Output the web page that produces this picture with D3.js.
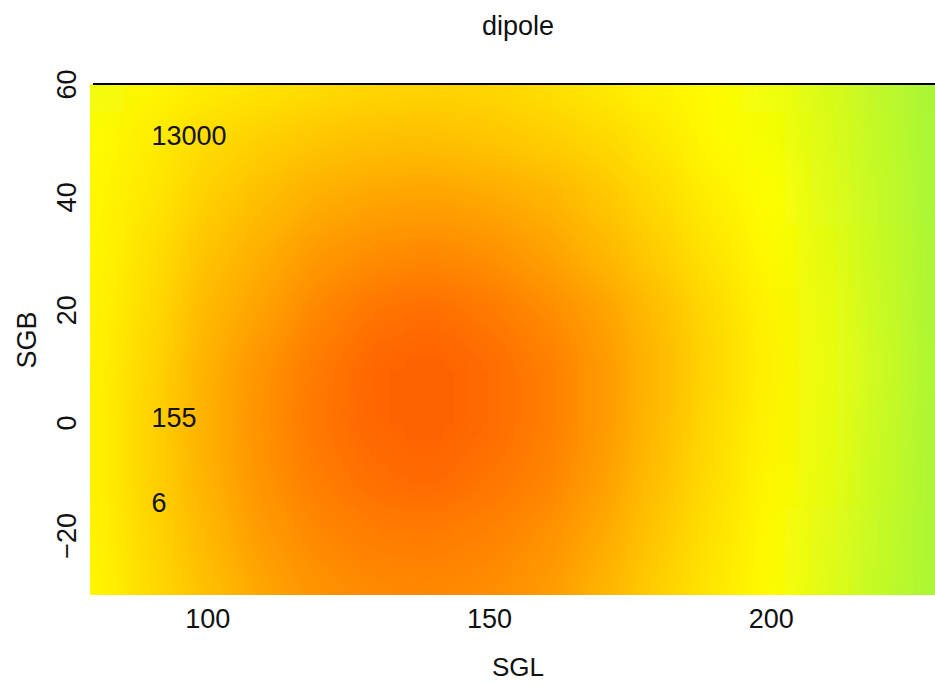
<!DOCTYPE html>
<html>
<head>
<meta charset="utf-8">
<script src="https://cdn.jsdelivr.net/npm/d3@7"></script>
<style>
  body { margin: 0; background: #fff; }
  text { font-family: "Liberation Sans", Arial, sans-serif; fill: #111; }
</style>
</head>
<body>
<svg id="chart"></svg>
<script>
// grid nodes of the map (supergalactic coords)
var sglNodes = [80, 90, 100, 110, 120, 130, 140, 150, 160, 170, 180, 190, 200, 210, 220, 230]
var sgbNodes = [60, 50, 40, 30, 20, 10, 0, -10, -20, -30]

// level, one row per sgb node (0 = green, 40 = yellow, 100 = red-orange)
var levels = [
    [33, 43, 47, 50, 53, 55, 56, 55, 52, 48, 44, 41, 34, 24, 13, 3],
    [41, 47, 54, 58, 62, 64, 64, 62, 59, 55, 49, 42, 36, 25, 14, 3],
    [43, 49, 58, 65, 71, 74, 75, 73, 69, 62, 54, 46, 40, 27, 15, 3],
    [43, 52, 63, 71, 79, 83, 85, 82, 76, 68, 59, 50, 42, 29, 16, 4],
    [44, 54, 67, 76, 86, 93, 95, 91, 84, 76, 65, 54, 44, 31, 17, 4],
    [45, 56, 70, 81, 91, 98, 100, 96, 89, 79, 67, 55, 45, 32, 18, 4],
    [45, 57, 71, 82, 92, 98, 100, 96, 89, 79, 66, 54, 44, 31, 17, 4],
    [45, 57, 70, 81, 90, 95, 97, 93, 87, 77, 64, 53, 43, 30, 16, 4],
    [44, 56, 67, 78, 85, 89, 90, 87, 82, 73, 61, 51, 42, 28, 15, 4],
    [43, 54, 64, 74, 81, 84, 85, 83, 78, 69, 58, 49, 41, 27, 14, 4]
]

var xTicks = [100, 150, 200]
var yTicks = [-20, 0, 20, 40, 60]

var notes = [
    { sgl: 90, sgb: 51, label: "13000" },
    { sgl: 90, sgb: 1, label: "155" },
    { sgl: 90, sgb: -14, label: "6" }
]

var screen = { width: 935, height: 685 }

var svg = d3.select("#chart")
    .attr("width", screen.width)
    .attr("height", screen.height)

var xScale = d3.scaleLinear()
    .domain([79.1, 231])
    .range([90, 946])

var yScale = d3.scaleLinear()
    .domain([-30.5, 60.1])
    .range([595, 84])

var colour = d3.scaleLinear()
    .domain([0, 40, 100])
    .range(["#9ef53c", "#ffff00", "#ff6000"])

// one cell per node; outer cells run past the frame so the blur has no soft edge
var cellEdges = function (nodes, i, pad) {
    var last = nodes.length - 1
    var dir = Math.sign(nodes[last] - nodes[0])
    var lo = i == 0 ? nodes[0] - (nodes[1] - nodes[0]) / 2 - pad * dir : (nodes[i - 1] + nodes[i]) / 2
    var hi = i == last ? nodes[i] + (nodes[i] - nodes[i - 1]) / 2 + pad * dir : (nodes[i] + nodes[i + 1]) / 2
    return [lo, hi]
}

var cells = []
levels.forEach(function (row, r) {
    row.forEach(function (v, c) {
        cells.push({ r: r, c: c, value: v })
    })
})

var defs = svg.append("defs")
defs.append("clipPath")
    .attr("id", "plotClip")
    .append("rect")
    .attr("x", xScale.range()[0])
    .attr("y", yScale.range()[1])
    .attr("width", xScale.range()[1] - xScale.range()[0])
    .attr("height", yScale.range()[0] - yScale.range()[1])

defs.append("filter")
    .attr("id", "smooth")
    .attr("filterUnits", "userSpaceOnUse")
    .attr("x", -100).attr("y", -100)
    .attr("width", 1200).attr("height", 900)
    .append("feGaussianBlur")
    .attr("stdDeviation", 20)

var map = svg.append("g")
    .attr("clip-path", "url(#plotClip)")
    .append("g")
    .attr("filter", "url(#smooth)")

map.selectAll("rect")
    .data(cells)
    .enter()
    .append("rect")
    .attr("x", function (d) {
        var e = cellEdges(sglNodes, d.c, 10)
        return Math.min(xScale(e[0]), xScale(e[1])) - 0.5
    })
    .attr("width", function (d) {
        var e = cellEdges(sglNodes, d.c, 10)
        return Math.abs(xScale(e[1]) - xScale(e[0])) + 1
    })
    .attr("y", function (d) {
        var e = cellEdges(sgbNodes, d.r, 10)
        return Math.min(yScale(e[0]), yScale(e[1])) - 0.5
    })
    .attr("height", function (d) {
        var e = cellEdges(sgbNodes, d.r, 10)
        return Math.abs(yScale(e[1]) - yScale(e[0])) + 1
    })
    .attr("fill", function (d) {
        return colour(d.value)
    })

// top edge of the frame
svg.append("line")
    .attr("x1", xScale.range()[0] + 3)
    .attr("x2", screen.width)
    .attr("y1", yScale.range()[1])
    .attr("y2", yScale.range()[1])
    .attr("stroke", "#000")
    .attr("stroke-width", 2)

// tick labels, no tick marks in the original
svg.append("g")
    .selectAll("text")
    .data(xTicks)
    .enter()
    .append("text")
    .attr("x", function (d) { return xScale(d) })
    .attr("y", 628)
    .attr("text-anchor", "middle")
    .attr("font-size", 27)
    .text(function (d) { return d })

svg.append("g")
    .selectAll("text")
    .data(yTicks)
    .enter()
    .append("text")
    .attr("transform", function (d) {
        return "translate(66," + yScale(d) + ") rotate(-90)"
    })
    .attr("dy", "0.36em")
    .attr("text-anchor", "middle")
    .attr("font-size", 27)
    .text(function (d) { return d < 0 ? "\u2212" + Math.abs(d) : d })

svg.append("g")
    .selectAll("text")
    .data(notes)
    .enter()
    .append("text")
    .attr("x", function (d) { return xScale(d.sgl) })
    .attr("y", function (d) { return yScale(d.sgb) })
    .attr("dy", "0.36em")
    .attr("font-size", 27)
    .text(function (d) { return d.label })

var labels = svg.append("g")
labels.append("text")
    .text("dipole")
    .attr("x", 518)
    .attr("y", 35)
    .attr("text-anchor", "middle")
    .attr("font-size", 27)
labels.append("text")
    .text("SGL")
    .attr("x", 518)
    .attr("y", 676)
    .attr("text-anchor", "middle")
    .attr("font-size", 26)
labels.append("text")
    .text("SGB")
    .attr("transform", "translate(26,340) rotate(-90)")
    .attr("dy", "0.36em")
    .attr("text-anchor", "middle")
    .attr("font-size", 27)
</script>
</body>
</html>
